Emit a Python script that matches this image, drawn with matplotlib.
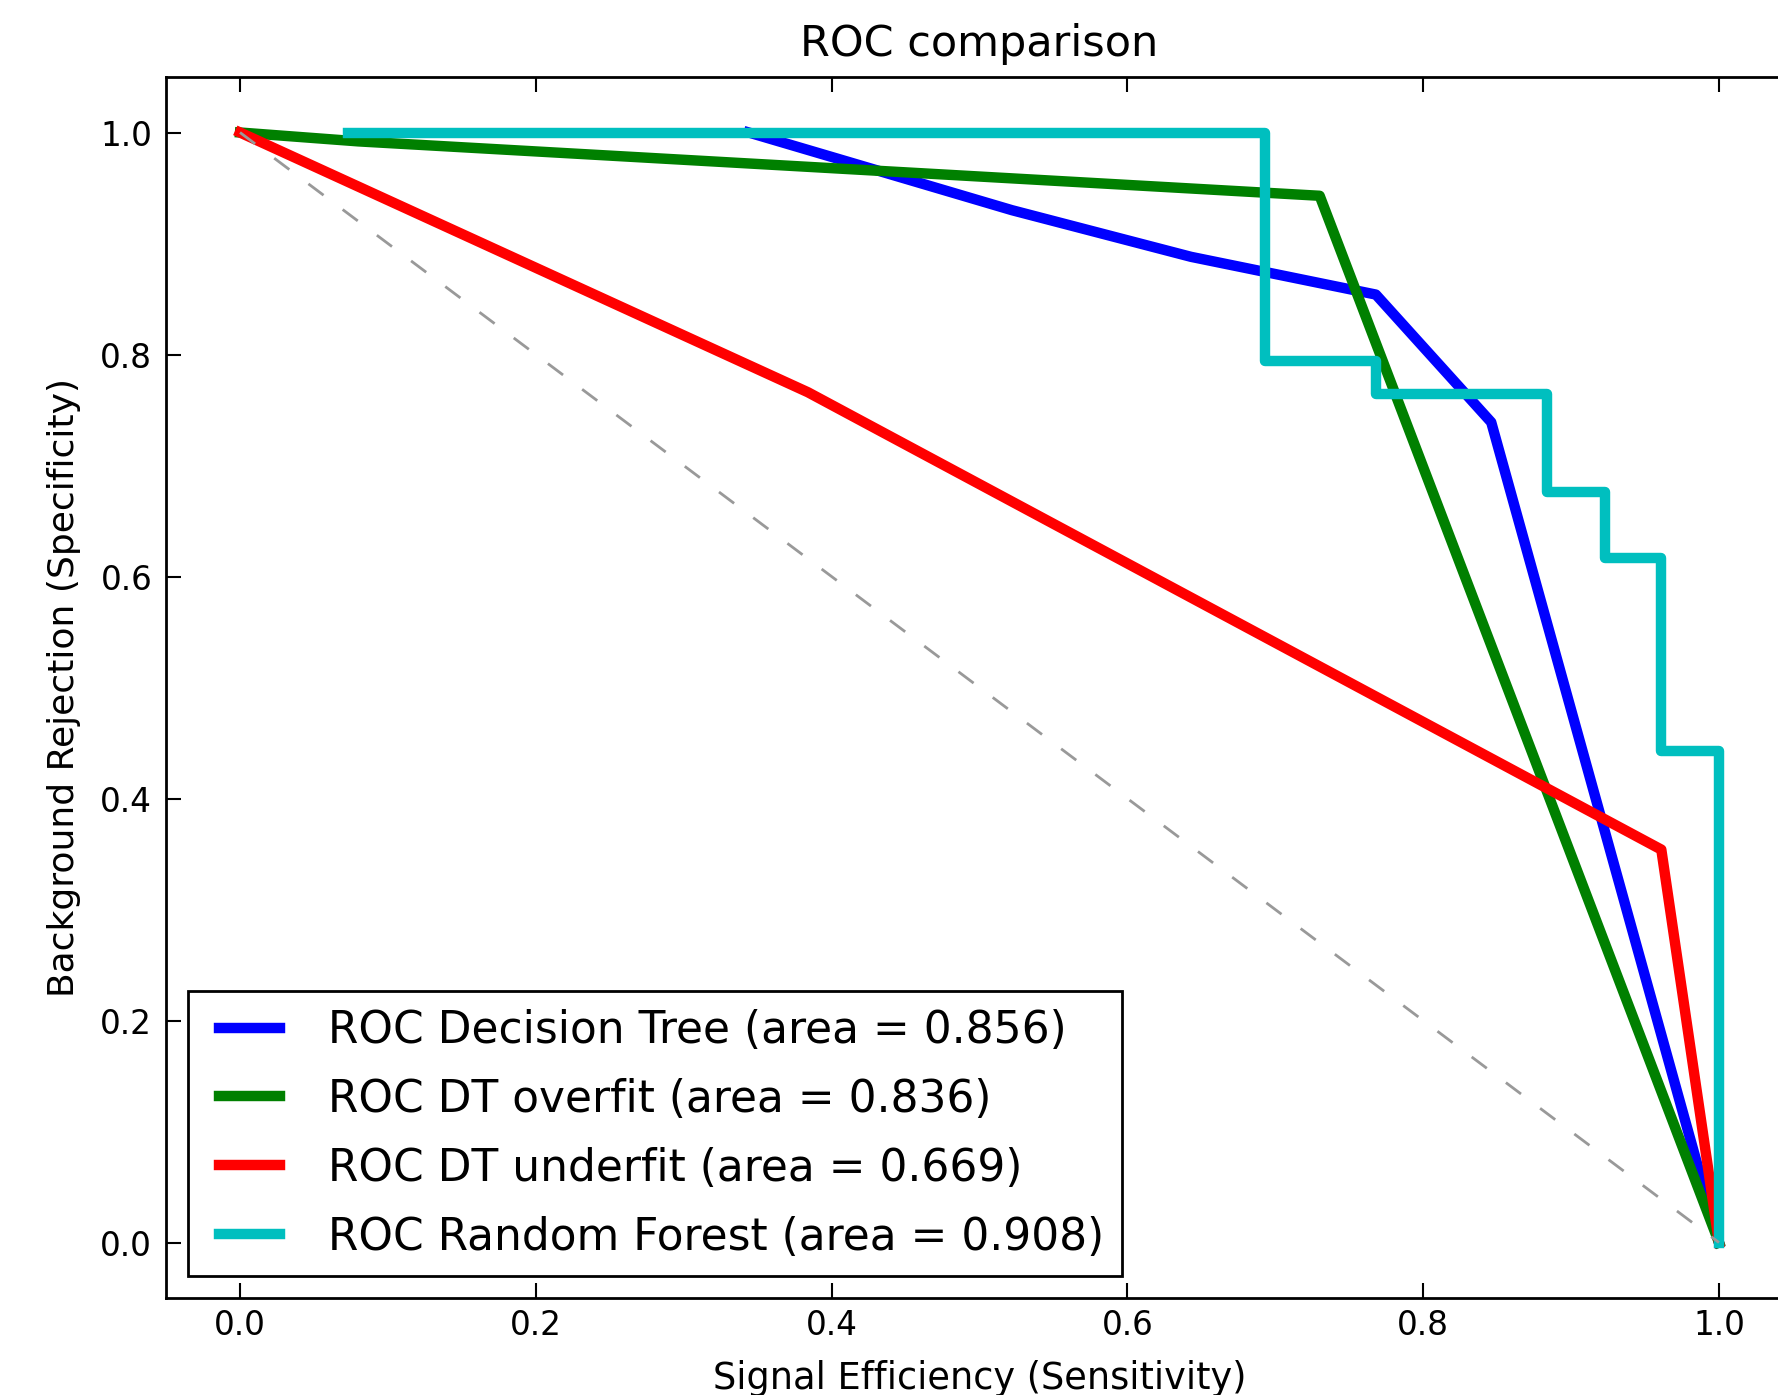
import matplotlib
matplotlib.use("Agg")
import matplotlib.pyplot as plt

# ROC points (x = signal efficiency, y = background rejection)
dt_x = [0.344, 0.40, 0.522, 0.643, 0.768, 0.846, 1.0]
dt_y = [1.0, 0.978, 0.930, 0.888, 0.854, 0.739, 0.0]

over_x = [0.0, 0.08, 0.730, 1.0]
over_y = [1.0, 0.992, 0.943, 0.0]

under_x = [0.0, 0.384, 0.961, 1.0]
under_y = [1.0, 0.766, 0.354, 0.0]

# random forest is a step curve (steps-post)
rf_x = [0.073, 0.693, 0.768, 0.884, 0.923, 0.961, 1.0]
rf_y = [1.0, 0.794, 0.764, 0.676, 0.617, 0.443, 0.0]

labels = ["ROC Decision Tree (area = 0.856)",
          "ROC DT overfit (area = 0.836)",
          "ROC DT underfit (area = 0.669)",
          "ROC Random Forest (area = 0.908)"]
colors = ["b", "g", "r", "c"]

ticks = [0.0, 0.2, 0.4, 0.6, 0.8, 1.0]

plt.rcParams["font.family"] = "DejaVu Sans"

fig = plt.figure(figsize=(17.78, 13.95), dpi=100)
# axes run past the right edge, like the cropped reference
ax = fig.add_axes([0.0934, 0.0695, 0.915, 0.8753])

lw = 7.5
ax.plot(dt_x, dt_y, color=colors[0], lw=lw, label=labels[0])
ax.plot(over_x, over_y, color=colors[1], lw=lw, label=labels[1])
ax.plot(under_x, under_y, color=colors[2], lw=lw, label=labels[2])
ax.plot(rf_x, rf_y, color=colors[3], lw=lw, label=labels[3], drawstyle="steps-post")

# chance line
ax.plot([0, 1], [1, 0], color=(0.6, 0.6, 0.6), lw=2, linestyle=(0, (6.8, 8.6)))

ax.set_xlim(-0.05, 1.05)
ax.set_ylim(-0.05, 1.05)
ax.set_xticks(ticks)
ax.set_yticks(ticks)
ax.tick_params(direction="in", length=11, width=1.5, top=True, right=True,
               labelsize=23.5)
ax.tick_params(axis="x", pad=8)
ax.tick_params(axis="y", pad=10)
for s in ax.spines.values():
    s.set_linewidth(2)

ax.set_xlabel("Signal Efficiency (Sensitivity)", fontsize=26.5, labelpad=13)
ax.set_ylabel("Background Rejection (Specificity)", fontsize=26, labelpad=14)
ax.set_title("ROC comparison", fontsize=31, pad=15)

# old-style legend: two-point handles inset by the marker pad
leg = ax.legend(loc="lower left", fontsize=31.6, numpoints=2, handlelength=2.0,
                handletextpad=0.8, borderpad=0.4, labelspacing=0.59,
                borderaxespad=0.5, fancybox=False, framealpha=1)
leg.get_frame().set_edgecolor("black")
leg.get_frame().set_linewidth(2)

fig.savefig("out.png", dpi=100)
